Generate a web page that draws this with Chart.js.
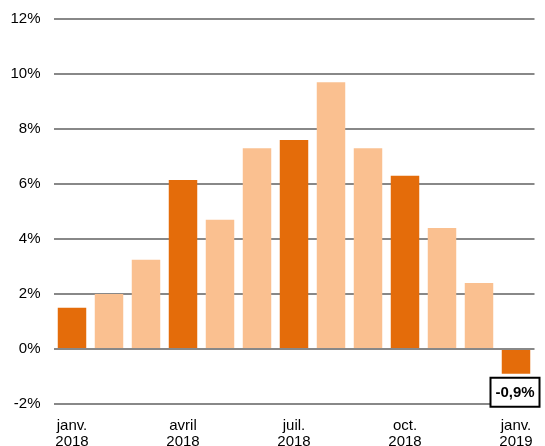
<!DOCTYPE html>
<html>
<head>
<meta charset="utf-8">
<script src="https://cdn.jsdelivr.net/npm/chart.js@4"></script>
<style>
html,body{margin:0;padding:0;background:#fff;}
#wrap{width:545px;height:446px;position:relative;}
</style>
</head>
<body>
<div id="wrap"><canvas id="c" width="545" height="446"></canvas></div>
<script>
const categories = [
  ["janv.","2018"], "", "", ["avril","2018"], "", "", ["juil.","2018"], "", "", ["oct.","2018"], "", "", ["janv.","2019"]
];
const values = [1.5, 2.0, 3.25, 6.15, 4.7, 7.3, 7.6, 9.7, 7.3, 6.3, 4.4, 2.4, -0.9];
const quarterly = [true, false, false, true, false, false, true, false, false, true, false, false, true];
const yTicks = [-2, 0, 2, 4, 6, 8, 10, 12];
const lastLabel = "-0,9%";

const DARK = "#E46C0A", LIGHT = "#FAC090";

const labelPlugin = {
  id: "lastLabel",
  afterDatasetsDraw(chart) {
    const meta = chart.getDatasetMeta(0);
    const bar = meta.data[meta.data.length - 1];
    const ctx = chart.ctx;
    ctx.save();
    ctx.font = "bold 15px 'Liberation Sans', Arial, sans-serif";
    const w = 49, h = 29;
    const cx = bar.x - 1;
    const top = Math.max(bar.y, bar.base) + 4;
    ctx.fillStyle = "#fff";
    ctx.fillRect(cx - w/2, top, w, h);
    ctx.lineWidth = 2;
    ctx.strokeStyle = "#000";
    ctx.strokeRect(cx - w/2, top, w, h);
    ctx.fillStyle = "#000";
    ctx.textAlign = "center";
    ctx.textBaseline = "middle";
    ctx.fillText(lastLabel, cx, top + h/2 + 1);
    ctx.restore();
  }
};

new Chart(document.getElementById("c"), {
  type: "bar",
  data: {
    labels: categories,
    datasets: [{
      data: values,
      backgroundColor: quarterly.map(q => q ? DARK : LIGHT),
      borderWidth: 0,
      barPercentage: 0.77,
      categoryPercentage: 1.0
    }]
  },
  options: {
    responsive: false,
    animation: false,
    devicePixelRatio: 1,
    layout: { padding: { left: 0, right: 10.5, top: 19, bottom: 0 } },
    plugins: { legend: { display: false }, tooltip: { enabled: false } },
    scales: {
      x: {
        grid: { display: false, drawTicks: false },
        border: { display: false },
        ticks: {
          autoSkip: false, maxRotation: 0, minRotation: 0,
          color: "#000", padding: 14,
          font: { family: "'Liberation Sans', Arial, sans-serif", size: 15, lineHeight: 1.07 }
        },
        afterFit(s) { s.height = 42; s.paddingLeft = 0; s.paddingRight = 0; }
      },
      y: {
        min: -2, max: 12,
        afterBuildTicks(s) { s.ticks = yTicks.map(v => ({ value: v })); },
        grid: { color: "#888888", lineWidth: 2, drawTicks: false },
        border: { display: false },
        ticks: {
          color: "#000", padding: 13,
          font: { family: "'Liberation Sans', Arial, sans-serif", size: 15 },
          callback: v => v + "%"
        },
        afterFit(s) { s.width = 53.5; s.paddingTop = 0; s.paddingBottom = 0; }
      }
    }
  },
  plugins: [labelPlugin]
});
</script>
</body>
</html>
